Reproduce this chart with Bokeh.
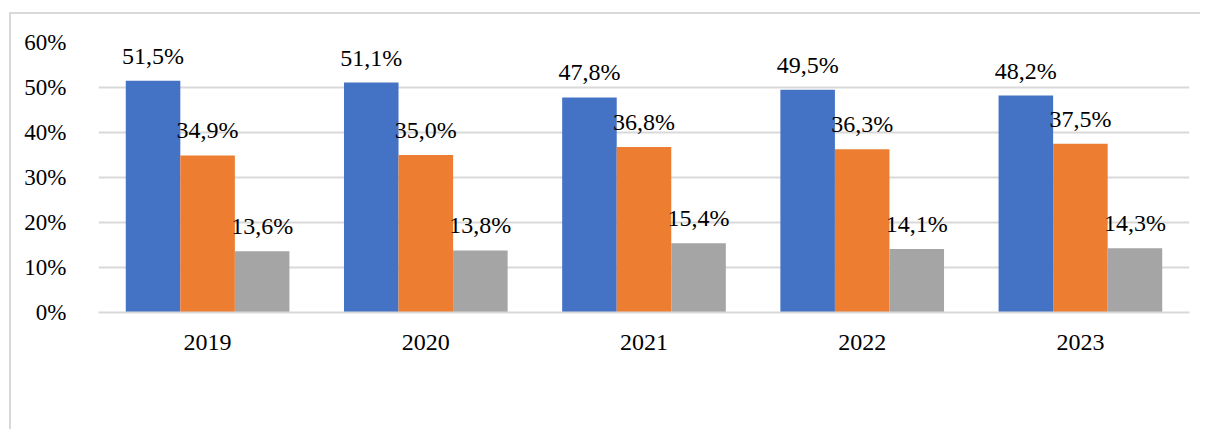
from bokeh.plotting import figure
from bokeh.layouts import column
from bokeh.models import ColumnDataSource, FactorRange, Legend, LegendItem, FixedTicker, PrintfTickFormatter
from bokeh.transform import dodge
from bokeh.embed import file_html
from bokeh.resources import INLINE
from bokeh.core.properties import value

years = ["2019", "2020", "2021", "2022", "2023"]
series_names = ["1-3. jövedelmi tized", "4-7. jövedelmi tized", "8-10. jövedelmi tized"]
low = [51.5, 51.1, 47.8, 49.5, 48.2]
mid = [34.9, 35.0, 36.8, 36.3, 37.5]
high = [13.6, 13.8, 15.4, 14.1, 14.3]
colors = ["#4472C4", "#ED7D31", "#A5A5A5"]
y_ticks = [0, 10, 20, 30, 40, 50, 60]

FONT = "Liberation Serif"


def fmt(v):
    return f"{v:.1f}".replace(".", ",") + "%"


data = dict(year=years, low=low, mid=mid, high=high,
            low_lbl=[fmt(v) for v in low],
            mid_lbl=[fmt(v) for v in mid],
            high_lbl=[fmt(v) for v in high])
src = ColumnDataSource(data)

p = figure(x_range=FactorRange(*years, range_padding=0), y_range=(0, 60),
           frame_width=1091, frame_height=270, output_backend="svg", toolbar_location=None,
           min_border_left=87, min_border_top=28, min_border_right=11, min_border_bottom=0)
p.outline_line_color = None
p.background_fill_color = "white"
p.border_fill_color = "white"

renderers = []
for key, off, col in zip(["low", "mid", "high"], [-0.25, 0.0, 0.25], colors):
    r = p.vbar(x=dodge("year", off, range=p.x_range), top=key, width=0.25, source=src,
               fill_color=col, line_color=None)
    renderers.append(r)
    p.text(x=dodge("year", off, range=p.x_range), y=key, text=key + "_lbl", source=src,
           text_align="center", text_baseline="middle", y_offset=-25,
           text_font=value(FONT), text_font_size="24px", text_color="#000000")

p.yaxis.ticker = FixedTicker(ticks=y_ticks)
p.yaxis.formatter = PrintfTickFormatter(format="%d%%")
p.yaxis.axis_line_color = None
p.yaxis.major_tick_line_color = None
p.yaxis.minor_tick_line_color = None
p.yaxis.major_label_standoff = 26
p.yaxis.major_label_text_font = FONT
p.yaxis.major_label_text_font_size = "23px"
p.yaxis.major_label_text_color = "#000000"

p.xaxis.axis_line_color = "#d9d9d9"
p.xaxis.axis_line_width = 2
p.xaxis.major_tick_line_color = None
p.xaxis.minor_tick_line_color = None
p.xaxis.major_label_standoff = 16
p.xaxis.major_label_text_font = FONT
p.xaxis.major_label_text_font_size = "24px"
p.xaxis.major_label_text_color = "#000000"

p.xgrid.grid_line_color = None
p.ygrid.grid_line_color = "#d9d9d9"
p.ygrid.grid_line_width = 2
p.ygrid.ticker = FixedTicker(ticks=y_ticks)

legend = Legend(items=[LegendItem(label=n, renderers=[r]) for n, r in zip(series_names, renderers)],
                orientation="horizontal", location="center")
legend.border_line_color = None
legend.background_fill_alpha = 0
legend.label_text_font = FONT
legend.label_text_font_size = "24px"
legend.label_text_color = "#000000"
legend.glyph_width = 11
legend.glyph_height = 11
legend.label_standoff = 5
legend.spacing = 64
legend.padding = 4
legend.margin = 15
p.add_layout(legend, "below")

page = column(p, styles={"border-left": "2px solid #d9d9d9", "border-top": "2px solid #d9d9d9",
                         "margin-left": "9px", "margin-top": "12px"})

open("out.html", "w").write(file_html(page, INLINE))
